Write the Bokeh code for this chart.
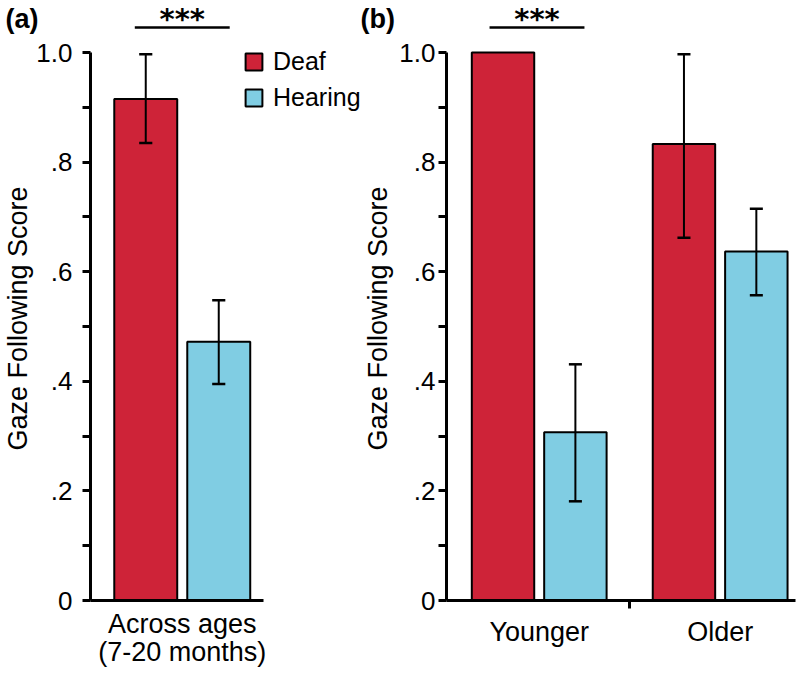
from bokeh.plotting import figure
from bokeh.models import (Range1d, FixedTicker, Legend, LegendItem,
                          ColumnDataSource)
from bokeh.core.properties import value
from bokeh.layouts import row, column
from bokeh.embed import file_html
from bokeh.resources import INLINE

# ---------------- data ----------------
groups_a = ["Across ages\n(7-20 months)"]
deaf_a = [0.915]
deaf_a_lower = [0.835]
deaf_a_upper = [0.997]
hearing_a = [0.472]
hearing_a_lower = [0.395]
hearing_a_upper = [0.548]
signif_a = ["***"]

groups_b = ["Younger", "Older"]
deaf_b = [1.0, 0.833]
deaf_b_lower = [1.0, 0.662]
deaf_b_upper = [1.0, 0.997]
hearing_b = [0.307, 0.637]
hearing_b_lower = [0.181, 0.557]
hearing_b_upper = [0.431, 0.715]
signif_b = ["***", ""]

y_ticks = [0, 0.2, 0.4, 0.6, 0.8, 1.0]
y_minor_ticks = [0.1, 0.3, 0.5, 0.7, 0.9]
y_tick_labels = ["0", ".2", ".4", ".6", ".8", "1.0"]
series_names = ["Deaf", "Hearing"]
panel_tags = ["(a)", "(b)"]

# ---------------- style / layout ----------------
RED = "#CE2338"
BLUE = "#80CDE3"
FONT = "Liberation Sans"
STAR_FONT = "DejaVu Sans"
PX = 182.5            # pixels per x unit (one group spacing)
DODGE = 0.2
BAR_W = 0.345
CAP = 0.036
SIG_HALF = 0.26
YPX = 548.0           # pixels per y unit
HEADER_H = 36
MAIN_H = 638
BOTTOM = 74
Y_LO = (MAIN_H - BOTTOM) / YPX          # top of main frame in data units
Y_HI = (MAIN_H - BOTTOM + HEADER_H) / YPX
SIG_LINE_Y = Y_LO + 9 / YPX
HEADER_MID = (Y_LO + Y_HI) / 2


def panel(groups, deaf, dl, du, hear, hl, hu, signif, tag, width, border_left,
          border_right, first_center_px, axis_len_px, tick_standoff,
          title_standoff, tag_pad, with_legend):
    frame_w = width - border_left - border_right
    x0 = 1 - (first_center_px - border_left) / PX
    x1 = x0 + frame_w / PX
    p = figure(width=width, height=MAIN_H, x_range=Range1d(x0, x1),
               y_range=Range1d(0, Y_LO), output_backend="svg",
               toolbar_location=None, min_border_left=border_left,
               min_border_right=border_right, min_border_top=0,
               min_border_bottom=BOTTOM)
    p.outline_line_color = None
    p.xgrid.visible = False
    p.ygrid.visible = False

    # header figure sharing the same horizontal scale
    hx0 = x0 - border_left / PX
    hx1 = x1 + border_right / PX
    h = figure(width=width, height=HEADER_H, x_range=Range1d(hx0, hx1),
               y_range=Range1d(Y_LO, Y_HI), output_backend="svg",
               toolbar_location=None, min_border_left=0, min_border_right=0,
               min_border_top=0, min_border_bottom=0)
    h.outline_line_color = None
    h.xgrid.visible = False
    h.ygrid.visible = False
    h.xaxis.visible = False
    h.yaxis.visible = False

    centers = [i + 1 for i in range(len(groups))]
    renderers = []
    for vals, lo, hi, col, off in ((deaf, dl, du, RED, -DODGE),
                                   (hear, hl, hu, BLUE, DODGE)):
        xs = [c + off for c in centers]
        src = ColumnDataSource(dict(x=xs, top=vals))
        r = p.vbar(x="x", top="top", width=BAR_W, bottom=0, source=src,
                   fill_color=col, line_color="black", line_width=2)
        renderers.append(r)
        ex = [x for x, a, b in zip(xs, lo, hi) if b > a]
        elo = [a for a, b in zip(lo, hi) if b > a]
        ehi = [b for a, b in zip(lo, hi) if b > a]
        if ex:
            p.segment(x0=ex, x1=ex, y0=elo, y1=ehi, line_color="black",
                      line_width=2)
            p.segment(x0=[x - CAP for x in ex], x1=[x + CAP for x in ex],
                      y0=elo, y1=elo, line_color="black", line_width=2.5)
            p.segment(x0=[x - CAP for x in ex], x1=[x + CAP for x in ex],
                      y0=ehi, y1=ehi, line_color="black", line_width=2.5)

    # significance brackets (in header)
    for c, s in zip(centers, signif):
        if s:
            h.segment(x0=[c - SIG_HALF], x1=[c + SIG_HALF], y0=[SIG_LINE_Y],
                      y1=[SIG_LINE_Y], line_color="black", line_width=2.5)
            h.text(x=[c], y=[HEADER_MID], text=[s], text_align="center",
                   text_baseline="middle", text_font_size="29px",
                   text_font=value(STAR_FONT), text_font_style="bold",
                   text_color="black")
    h.text(x=[hx0], y=[HEADER_MID], text=[tag], x_offset=tag_pad,
           text_align="left", text_baseline="middle", text_font_size="27px",
           text_font=value(FONT), text_font_style="bold", text_color="black")

    # y axis
    ya = p.yaxis[0]
    ya.ticker = FixedTicker(ticks=y_ticks, minor_ticks=y_minor_ticks)
    ya.major_label_overrides = dict(zip(y_ticks, y_tick_labels))
    ya.bounds = (0, 1)
    ya.axis_line_width = 3
    ya.major_tick_line_width = 3
    ya.minor_tick_line_width = 3
    ya.major_tick_out = 8
    ya.major_tick_in = 0
    ya.minor_tick_out = 8
    ya.minor_tick_in = 0
    ya.major_label_text_font = FONT
    ya.major_label_text_font_size = "26px"
    ya.major_label_text_color = "black"
    ya.major_label_standoff = tick_standoff
    ya.axis_label = "Gaze Following Score"
    ya.axis_label_text_font = FONT
    ya.axis_label_text_font_size = "27px"
    ya.axis_label_text_font_style = "normal"
    ya.axis_label_text_color = "black"
    ya.axis_label_standoff = title_standoff

    # x axis
    xa = p.xaxis[0]
    mid = [c + 0.5 for c in centers[:-1]]
    xa.ticker = FixedTicker(ticks=centers, minor_ticks=mid)
    xa.major_label_overrides = dict(zip(centers, groups))
    xa.bounds = (x0, x0 + axis_len_px / PX)
    xa.axis_line_width = 3
    xa.major_tick_line_color = None
    xa.major_tick_out = 0
    xa.major_tick_in = 0
    xa.minor_tick_line_width = 3
    xa.minor_tick_out = 8
    xa.minor_tick_in = 0
    xa.major_label_text_font = FONT
    xa.major_label_text_font_size = "27px"
    xa.major_label_text_color = "black"
    xa.major_label_text_line_height = 0.95
    xa.major_label_standoff = 8

    if with_legend:
        legend = Legend(items=[LegendItem(label=series_names[0], renderers=[renderers[0]]),
                               LegendItem(label=series_names[1], renderers=[renderers[1]])],
                        location=(153, 488), orientation="vertical", padding=0,
                        margin=0, spacing=7, glyph_width=21, glyph_height=21,
                        label_standoff=9, label_text_font=FONT,
                        label_text_font_size="25px", label_text_color="black",
                        border_line_color=None, background_fill_alpha=0)
        p.add_layout(legend, "center")
    return h, p


ha, pa = panel(groups_a, deaf_a, deaf_a_lower, deaf_a_upper, hearing_a,
               hearing_a_lower, hearing_a_upper, signif_a, panel_tags[0],
               width=360, border_left=90, border_right=0,
               first_center_px=181.75, axis_len_px=173, tick_standoff=10,
               title_standoff=0, tag_pad=5, with_legend=True)
hb, pb = panel(groups_b, deaf_b, deaf_b_lower, deaf_b_upper, hearing_b,
               hearing_b_lower, hearing_b_upper, signif_b, panel_tags[1],
               width=440, border_left=83, border_right=5,
               first_center_px=536.5 - 360, axis_len_px=352, tick_standoff=3,
               title_standoff=3, tag_pad=0, with_legend=False)

layout = column(row(ha, hb), row(pa, pb))
open("out.html", "w").write(file_html(layout, INLINE))
